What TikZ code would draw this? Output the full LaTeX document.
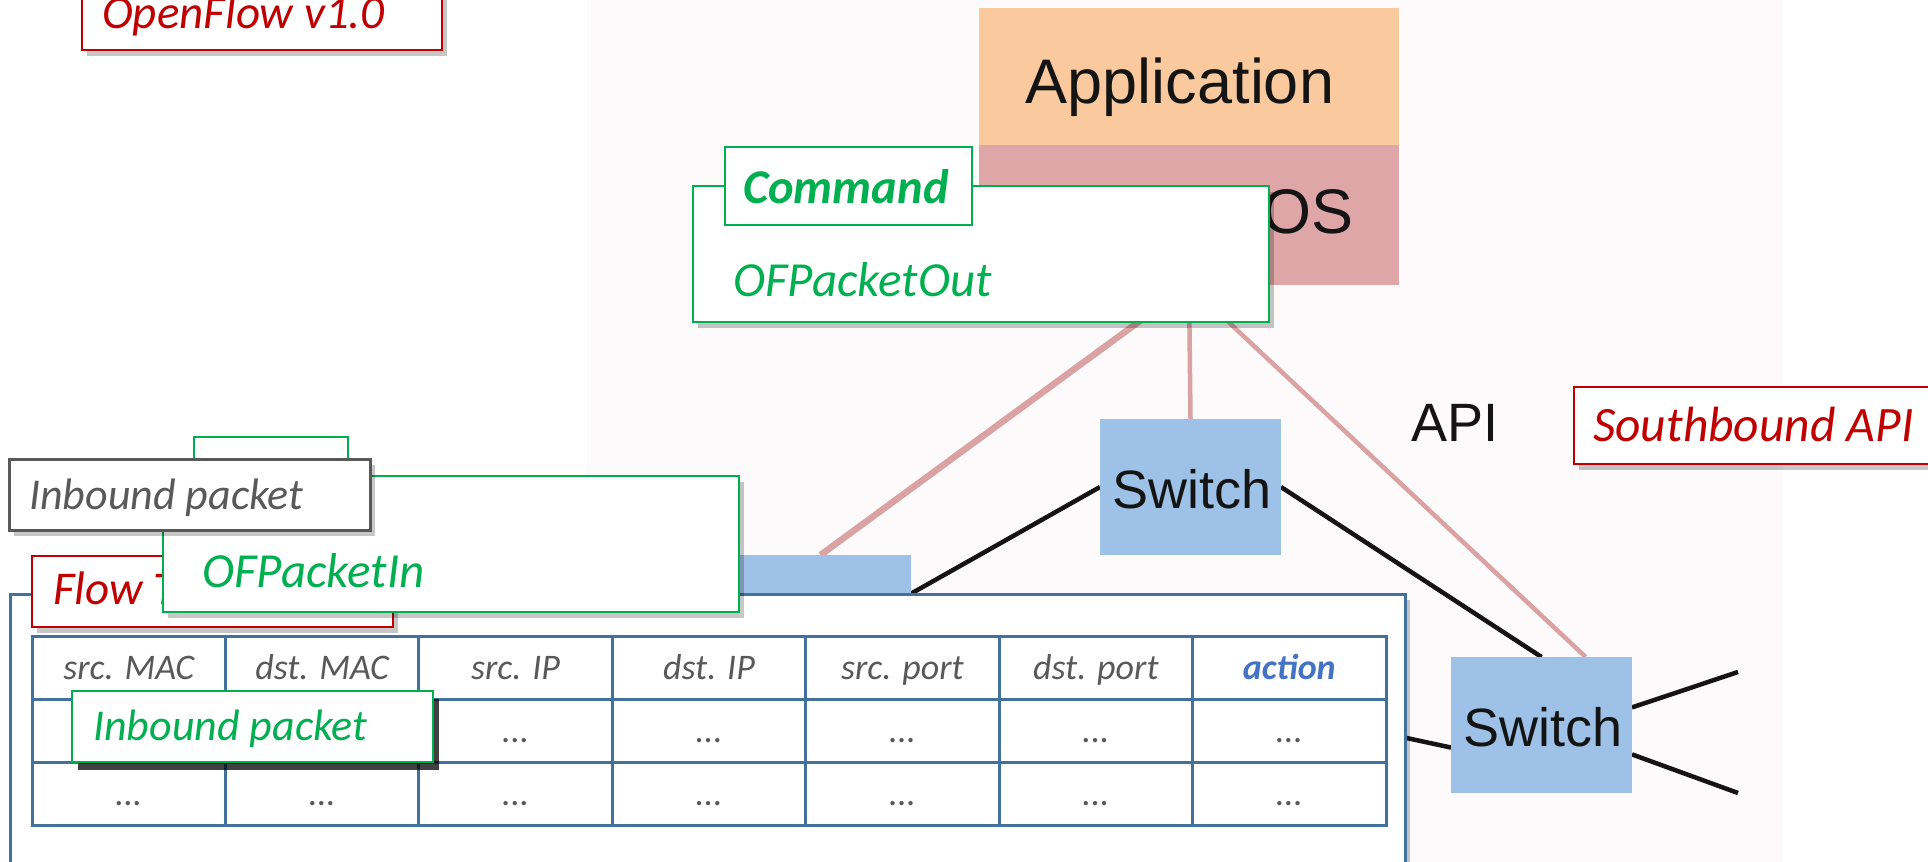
\documentclass[tikz,border=0pt]{standalone}
\usepackage{fontspec}
\setmainfont{Carlito}
\newfontfamily\helv{Liberation Sans}
\usetikzlibrary{shadows}
\pgfdeclarelayer{backdrop}
\pgfdeclarelayer{wires}
\pgfsetlayers{backdrop,wires,main}

\definecolor{ofred}{RGB}{192,0,0}
\definecolor{ofgreen}{RGB}{0,176,80}
\definecolor{ofgray}{RGB}{89,89,89}
\definecolor{tblue}{RGB}{65,113,156}
\definecolor{actblue}{RGB}{68,114,196}
\definecolor{appfill}{RGB}{250,202,158}
\definecolor{osfill}{RGB}{223,166,167}
\definecolor{swfill}{RGB}{158,194,231}
\definecolor{ctlline}{RGB}{218,162,162}
\definecolor{shotbg}{RGB}{252,250,251}

% italic callout face at a given size (pt)
\newcommand\calloutface[1]{\fontsize{#1pt}{#1pt}\selectfont\itshape}

\tikzset{
  panel/.style={draw, fill=white, anchor=north west, inner sep=0pt, outer sep=0pt, line width=2.5pt},
  softshadow/.style={drop shadow={shadow xshift=5pt, shadow yshift=-6pt, fill=black, opacity=0.22}},
  darkshadow/.style={drop shadow={shadow xshift=6pt, shadow yshift=-8pt, fill=black, opacity=0.75}},
  redpanel/.style={panel, draw=ofred, softshadow},
  greenpanel/.style={panel, draw=ofgreen, softshadow},
  greentab/.style={panel, draw=ofgreen},
  graypanel/.style={panel, draw=ofgray, line width=3pt, softshadow},
  callout/.style={anchor=base west, inner sep=0pt, font=\calloutface{47}},
  stackbox/.style={anchor=north west, inner sep=0pt, outer sep=0pt, minimum width=420pt},
  stacktext/.style={inner sep=0pt, text=black!92, font=\helv\fontsize{63pt}{70pt}\selectfont},
  netbox/.style={anchor=north west, inner sep=0pt, outer sep=0pt, minimum width=181pt, minimum height=136pt, fill=swfill},
  nettext/.style={inner sep=0pt, text=black!92, font=\helv\fontsize{54pt}{60pt}\selectfont},
  ctlwire/.style={draw=ctlline, line width=4.5pt},
  datawire/.style={draw=black!92, line width=4.5pt},
  cell/.style={draw=tblue, line width=3pt, fill=white, inner sep=0pt, minimum width=193.43pt, minimum height=63pt},
  celltext/.style={anchor=base, inner sep=0pt, text=ofgray, font=\calloutface{36}},
}

\begin{document}
\begin{tikzpicture}[x=1pt,y=-1pt]
\useasboundingbox (0,0) rectangle (1928,862);
\begin{pgfonlayer}{backdrop}
  \fill[white] (0,0) rectangle (1928,862);
  \fill[shotbg] (587,0) rectangle (1783,862);
\end{pgfonlayer}

% controller stack
\node[stackbox, fill=appfill, minimum height=137pt] (app) at (979,8) {};
\node[stacktext, anchor=base] (apptext) at (1180,103) {Application};
\node[stackbox, fill=osfill, minimum height=140pt] (os) at (979,145) {};
\node[stacktext, anchor=base east] (ostext) at (1354,233) {OS};

% switches
\node[netbox] (lsw) at (730,555) {};
\node[netbox] (msw) at (1100,419) {};
\node[nettext, anchor=base] (mswtext) at (1192,508) {Switch};
\node[netbox] (rsw) at (1451,657) {};
\node[nettext, anchor=base] (rswtext) at (1543,746) {Switch};
\node[nettext, anchor=base west] (api) at (1411,441) {API};

\coordinate (lswport) at (820,645);
\coordinate (tblport) at (1300,715);
\coordinate (rout1) at (1738,672);
\coordinate (rout2) at (1738,793);

\begin{pgfonlayer}{wires}
  \draw[ctlwire, line width=6.5pt] (os.south) -- (lsw.north);
  \draw[ctlwire] (os.south) -- (msw.north);
  \draw[ctlwire] (os.south) -- (rsw.57);
  \draw[datawire] (msw.west) -- (lswport);
  \draw[datawire] (msw.east) -- (rsw.north);
  \draw[datawire] (tblport) -- (rsw.194);
  \draw[datawire] (rsw.11) -- (rout1);
  \draw[datawire] (rsw.-18) -- (rout2);
\end{pgfonlayer}

% labels
\node[redpanel, minimum width=376pt, minimum height=77pt] (sb) at (1574,387) {};
\node[callout, text=ofred, font=\calloutface{49.5}] (sbtext) at (1593,441) {Southbound API};
\node[redpanel, minimum width=360pt, minimum height=65pt] (ver) at (82,-15) {};
\node[callout, text=ofred] (vertext) at (102,28) {OpenFlow v1.0};

% command callout
\node[greenpanel, minimum width=576pt, minimum height=136pt] (cmdpanel) at (693,186) {};
\node[greentab, minimum width=247pt, minimum height=78pt] (cmdtab) at (725,147) {};
\node[callout, text=ofgreen, font=\calloutface{48.5}\bfseries] (cmdtext) at (743,203) {Command};
\node[callout, text=ofgreen, font=\calloutface{49}] (outtext) at (733,296) {OFPacketOut};

% flow table
\node[panel, draw=tblue, line width=3pt, softshadow, minimum width=1395pt, minimum height=300pt] (ftbox) at (10,594) {};
\node[redpanel, minimum width=361pt, minimum height=71pt] (fttab) at (32,556) {};
\node[callout, text=ofred] (fttext) at (53,604) {Flow T};

\foreach \lab [count=\i from 0] in {src. MAC,dst. MAC,src. IP,dst. IP,src. port,dst. port} {
  \node[cell] (hd\i) at ({32+193.43*\i+96.715},667.5) {};
  \node[celltext] (hdt\i) at ({32+193.43*\i+96.715},679) {\lab};
}
\node[cell] (hd6) at ({32+193.43*6+96.715},667.5) {};
\node[celltext, text=actblue, font=\calloutface{36}\bfseries] (hdt6) at ({32+193.43*6+96.715},679) {action};

\foreach \r in {1,2} {
  \foreach \i in {0,...,6} {
    \node[cell] (c\r\i) at ({32+193.43*\i+96.715},{667.5+63*\r}) {};
  }
}
\foreach \i in {2,...,6} {
  \node[celltext] (d1\i) at ({32+193.43*\i+96.715},742) {...};
}
\foreach \i in {0,...,6} {
  \node[celltext] (d2\i) at ({32+193.43*\i+96.715},805) {...};
}

% packet-in callout
\node[greenpanel, minimum width=576pt, minimum height=136pt] (inpanel) at (163,476) {};
\node[greentab, minimum width=154pt, minimum height=77pt] (intab) at (194,437) {};
\node[callout, text=ofgreen, font=\calloutface{49}] (intext) at (202,587) {OFPacketIn};

\node[graypanel, minimum width=361pt, minimum height=71pt] (pktgray) at (9,459) {};
\node[callout, text=ofgray, font=\calloutface{44}] (pktgraytext) at (29,509) {Inbound packet};

\node[panel, draw=ofgreen, darkshadow, minimum width=361pt, minimum height=71pt] (pktgreen) at (72,691) {};
\node[callout, text=ofgreen, font=\calloutface{44}] (pktgreentext) at (93,740) {Inbound packet};
\end{tikzpicture}
\end{document}
